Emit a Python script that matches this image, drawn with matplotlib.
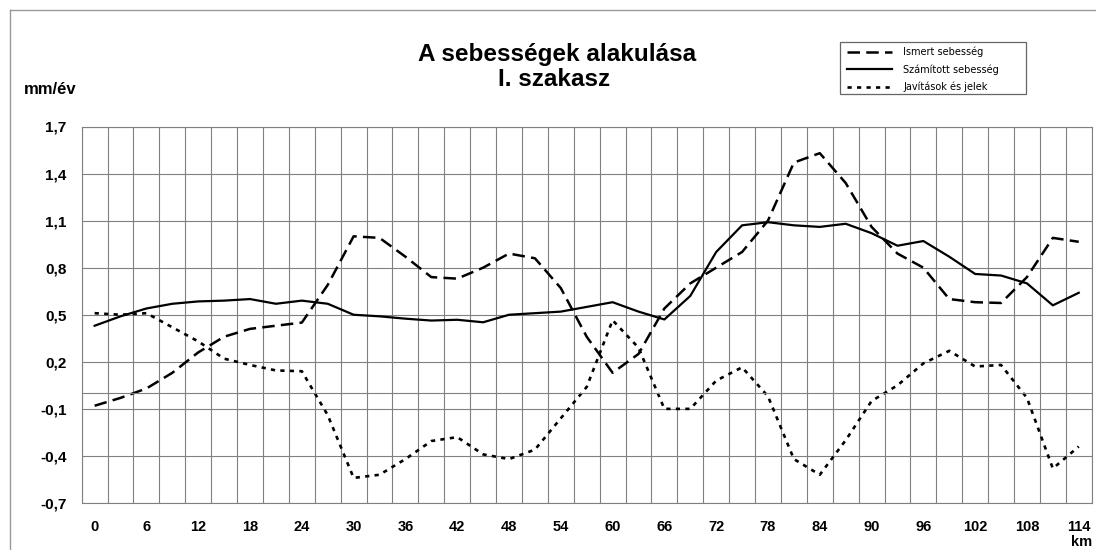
import matplotlib.pyplot as plt
from matplotlib.lines import Line2D
from matplotlib.patches import Rectangle
import numpy as np

# Adatok: km szelvények és a három sebesség-sor (mm/év)
km = list(range(0, 115, 3))
ismert = [-0.08, -0.03, 0.03, 0.13, 0.26, 0.36, 0.41, 0.43, 0.45, 0.69,
          1.00, 0.99, 0.87, 0.74, 0.73, 0.80, 0.89, 0.86, 0.67, 0.36,
          0.13, 0.25, 0.54, 0.70, 0.80, 0.90, 1.10, 1.47, 1.53, 1.34,
          1.06, 0.89, 0.80, 0.60, 0.58, 0.575, 0.74, 0.99, 0.965]
szamitott = [0.43, 0.49, 0.54, 0.57, 0.585, 0.59, 0.60, 0.57, 0.59, 0.57,
             0.50, 0.49, 0.475, 0.463, 0.468, 0.452, 0.50, 0.51, 0.52, 0.55,
             0.58, 0.52, 0.47, 0.62, 0.90, 1.07, 1.09, 1.07, 1.06, 1.08,
             1.02, 0.94, 0.97, 0.87, 0.76, 0.75, 0.70, 0.56, 0.64]
javitasok = [0.51, 0.50, 0.51, 0.42, 0.33, 0.22, 0.18, 0.145, 0.14, -0.14,
             -0.54, -0.52, -0.42, -0.305, -0.28, -0.39, -0.42, -0.36, -0.16, 0.04,
             0.465, 0.29, -0.10, -0.10, 0.08, 0.165, -0.02, -0.42, -0.52, -0.30,
             -0.05, 0.05, 0.19, 0.27, 0.17, 0.18, -0.03, -0.48, -0.34]

x_ticks = list(range(0, 115, 6))
y_ticks = [-0.7, -0.4, -0.1, 0.2, 0.5, 0.8, 1.1, 1.4, 1.7]
y_labels = ['-0,7', '-0,4', '-0,1', '0,2', '0,5', '0,8', '1,1', '1,4', '1,7']

plt.rcParams['font.family'] = ['Liberation Sans', 'DejaVu Sans']
grid_c = '#808080'
W, H = 1096, 550

fig = plt.figure(figsize=(10.96, 5.5), dpi=100)
ax = fig.add_axes([81.7 / W, 1 - 503 / H, (1091.7 - 81.7) / W, (503 - 126.5) / H])

# Vonalak
ax.plot(km, ismert, color='black', lw=1.8, dashes=(5, 2.5), label='Ismert sebesség')
ax.plot(km, szamitott, color='black', lw=1.6, label='Számított sebesség')
ax.plot(km, javitasok, color='black', lw=1.9, dashes=(1.6, 2.0), label='Javítások és jelek')

# Tengelyek
ax.set_xlim(-1.5, 115.5)
ax.set_ylim(-0.7, 1.7)
ax.set_xticks(x_ticks)
ax.set_xticklabels([str(v) for v in x_ticks], fontsize=10.5, fontweight='bold')
ax.set_xticks(np.arange(-1.5, 116, 3), minor=True)
ax.set_yticks(y_ticks)
ax.set_yticklabels(y_labels, fontsize=11, fontweight='bold')
ax.tick_params(which='both', length=0)
ax.tick_params(axis='x', pad=12)
ax.tick_params(axis='y', pad=11)
ax.grid(True, which='minor', axis='x', color=grid_c, lw=0.8)
ax.grid(True, which='major', axis='y', color=grid_c, lw=0.8)
ax.axhline(0, color=grid_c, lw=0.8)
for s in ax.spines.values():
    s.set_color(grid_c)
    s.set_linewidth(0.8)
ax.set_axisbelow(True)

# Feliratok
fig.text(557 / W, 1 - 54 / H, 'A sebességek alakulása', ha='center', va='center',
         fontsize=17.5, fontweight='bold')
fig.text(554 / W, 1 - 79 / H, 'I. szakasz', ha='center', va='center',
         fontsize=17.5, fontweight='bold')
fig.text(24 / W, 1 - 89 / H, 'mm/év', ha='left', va='center',
         fontsize=12, fontweight='bold')
fig.text(1082 / W, 1 - 542 / H, 'km', ha='center', va='center',
         fontsize=10.5, fontweight='bold')

# Jelmagyarázat (keret külön téglalapként, hogy jobbra is legyen hely)
fig.add_artist(Rectangle((840 / W, 1 - 94.3 / H), 186 / W, 52 / H,
                         transform=fig.transFigure, facecolor='white',
                         edgecolor='#666666', lw=0.9))
leg = fig.legend(loc='upper left', bbox_to_anchor=(843 / W, 1 - 43 / H),
                 prop={'family': 'DejaVu Sans', 'size': 7}, frameon=False,
                 borderaxespad=0, borderpad=0.4,
                 handlelength=4.6, handletextpad=1.2, labelspacing=0.72)

# Külső keret
fig.add_artist(Line2D([10 / W, 10 / W], [0, 1 - 10 / H], color='#999999', lw=1))
fig.add_artist(Line2D([10 / W, 1], [1 - 10 / H, 1 - 10 / H], color='#999999', lw=1))

fig.savefig('out.png', dpi=100)
